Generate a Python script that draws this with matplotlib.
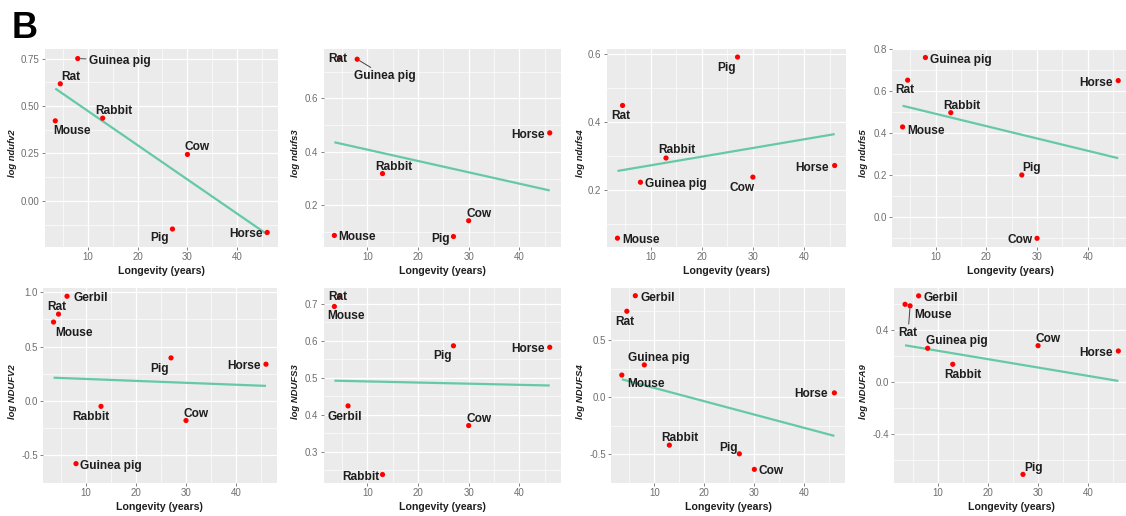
import matplotlib
matplotlib.use("Agg")
import matplotlib.pyplot as plt
import numpy as np

plt.rcParams['font.family'] = ['Liberation Sans', 'DejaVu Sans']

# ---- data -------------------------------------------------------------
species = ["Mouse", "Rat", "Gerbil", "Guinea pig", "Rabbit", "Pig", "Cow", "Horse"]
longevity = [3.5, 4.5, 6.2, 8, 13, 27, 30, 46]

# log expression per species (None = not measured)
ndufv2 = [0.422, 0.617, None, 0.750, 0.436, -0.148, 0.245, -0.166]
ndufs3 = [0.088, 0.750, None, 0.746, 0.319, 0.084, 0.143, 0.471]
ndufs4 = [0.059, 0.448, None, 0.223, 0.294, 0.590, 0.238, 0.272]
ndufs5 = [0.429, 0.652, None, 0.760, 0.497, 0.200, -0.102, 0.650]
NDUFV2 = [0.725, 0.798, 0.962, -0.575, -0.049, 0.396, -0.179, 0.338]
NDUFS3 = [0.692, 0.719, 0.424, None, 0.239, 0.586, 0.371, 0.582]
NDUFS4 = [0.193, 0.752, 0.888, 0.282, -0.421, -0.497, -0.633, 0.037]
NDUFA9 = [0.597, 0.585, 0.662, 0.259, 0.136, -0.710, 0.279, 0.238]

genes = ["ndufv2", "ndufs3", "ndufs4", "ndufs5", "NDUFV2", "NDUFS3", "NDUFS4", "NDUFA9"]
values = [ndufv2, ndufs3, ndufs4, ndufs5, NDUFV2, NDUFS3, NDUFS4, NDUFA9]

# linear fit: fitted log expression at the shortest and longest longevity
fit_start = [0.592, 0.436, 0.256, 0.530, 0.214, 0.492, 0.156, 0.282]
fit_end = [-0.176, 0.256, 0.364, 0.280, 0.139, 0.479, -0.340, 0.008]

x_ticks = [10, 20, 30, 40]
y_ticks = [
    [0.00, 0.25, 0.50, 0.75],
    [0.2, 0.4, 0.6],
    [0.2, 0.4, 0.6],
    [0.0, 0.2, 0.4, 0.6, 0.8],
    [-0.5, 0.0, 0.5, 1.0],
    [0.3, 0.4, 0.5, 0.6, 0.7],
    [-0.5, 0.0, 0.5],
    [-0.4, 0.0, 0.4],
]
y_tick_labels = [
    ["0.00", "0.25", "0.50", "0.75"],
    ["0.2", "0.4", "0.6"],
    ["0.2", "0.4", "0.6"],
    ["0.0", "0.2", "0.4", "0.6", "0.8"],
    ["-0.5", "0.0", "0.5", "1.0"],
    ["0.3", "0.4", "0.5", "0.6", "0.7"],
    ["-0.5", "0.0", "0.5"],
    ["-0.4", "0.0", "0.4"],
]

# ---- layout -----------------------------------------------------------
W, H = 1126, 516
XLIM = (1.375, 48.125)
YLIM = [(-0.241, 0.803), (0.046, 0.786), (0.034, 0.615), (-0.142, 0.803),
        (-0.647, 1.035), (0.217, 0.741), (-0.698, 0.953), (-0.774, 0.720)]
# panel boxes in pixels: left, right, top, bottom
BOX = [(44.7, 277.8, 48.5, 246.7), (323.6, 560.5, 48.5, 246.7),
       (606.6, 845.5, 48.5, 246.7), (891.8, 1129.0, 48.5, 246.7),
       (42.9, 276.6, 288.3, 482.7), (323.6, 560.5, 288.3, 482.7),
       (611.2, 845.0, 288.3, 482.7), (894.4, 1129.0, 288.3, 482.7)]
YLABEL_X = [12.7, 295.7, 580.7, 864, 12.7, 295.7, 580.7, 864]

# label offsets from each point in pixels (dx right, dy down)
OFFSETS = [
    {"Guinea pig": (42, 2), "Rat": (11, -7), "Mouse": (17, 10), "Rabbit": (11, -7),
     "Cow": (10, -7), "Pig": (-13, 9), "Horse": (-21, 2)},
    {"Rat": (-2, 1), "Guinea pig": (28, 17), "Horse": (-22, 2), "Rabbit": (11, -7),
     "Cow": (10, -7), "Mouse": (23, 2), "Pig": (-13, 2)},
    {"Pig": (-11, 11), "Rat": (-2, 11), "Rabbit": (11, -8), "Guinea pig": (35, 2),
     "Cow": (-11, 11), "Horse": (-23, 2), "Mouse": (24, 2)},
    {"Guinea pig": (35, 2), "Rat": (-3, 10), "Horse": (-22, 2), "Rabbit": (11, -7),
     "Mouse": (23, 4), "Pig": (10, -7), "Cow": (-17, 2)},
    {"Gerbil": (24, 2), "Rat": (-2, -7), "Mouse": (20, 11), "Pig": (-11, 11),
     "Horse": (-22, 2), "Rabbit": (-10, 11), "Cow": (10, -7), "Guinea pig": (35, 2)},
    {"Rat": (-2, 1), "Mouse": (12, 10), "Pig": (-11, 10), "Horse": (-22, 2),
     "Gerbil": (-3, 11), "Cow": (10, -7), "Rabbit": (-22, 2)},
    {"Gerbil": (22, 2), "Rat": (-2, 11), "Guinea pig": (15, -7), "Mouse": (24, 9),
     "Horse": (-23, 1), "Rabbit": (11, -7), "Pig": (-11, -6), "Cow": (17, 2)},
    {"Gerbil": (22, 2), "Mouse": (28, 11), "Rat": (-2, 27), "Guinea pig": (29, -7),
     "Rabbit": (10, 11), "Cow": (10, -7), "Horse": (-22, 2), "Pig": (11, -6)},
]
SEGMENTS = {(0, "Guinea pig"), (1, "Guinea pig"), (7, "Rat")}

PANEL_BG = "#EBEBEB"
LINE_COLOR = "#66C9A6"
TICK_COLOR = "#6E6E6E"
LABEL_COLOR = "#1E1E1E"

fig = plt.figure(figsize=(W / 100, H / 100), dpi=100)

for i, gene in enumerate(genes):
    l, r, t, b = BOX[i]
    ax = fig.add_axes([l / W, 1 - b / H, (r - l) / W, (b - t) / H])
    ax.set_facecolor(PANEL_BG)
    for s in ax.spines.values():
        s.set_visible(False)
    ax.set_xlim(*XLIM)
    ax.set_ylim(*YLIM[i])

    # grid: major at ticks, minor halfway between
    yt = y_ticks[i]
    step = yt[1] - yt[0]
    minor_y = np.arange(yt[0] - step / 2, YLIM[i][1], step)
    minor_x = np.arange(5, XLIM[1], 10)
    ax.set_xticks(x_ticks)
    ax.set_xticks(minor_x, minor=True)
    ax.set_yticks(yt)
    ax.set_yticks(minor_y, minor=True)
    ax.set_yticklabels(y_tick_labels[i])
    ax.grid(which="major", color="white", lw=0.9, zorder=0)
    ax.grid(which="minor", color="white", lw=0.45, zorder=0)
    ax.set_axisbelow(True)
    ax.tick_params(which="minor", length=0)
    ax.tick_params(which="major", length=2.2, width=0.6, color=TICK_COLOR,
                   labelcolor=TICK_COLOR, labelsize=7.0, pad=1.5)

    xs = [x for x, v in zip(longevity, values[i]) if v is not None]
    ys = [v for v in values[i] if v is not None]
    names = [s for s, v in zip(species, values[i]) if v is not None]

    ax.plot([min(xs), max(xs)], [fit_start[i], fit_end[i]], color=LINE_COLOR,
            lw=1.6, zorder=2, solid_capstyle="butt")
    ax.scatter(xs, ys, s=14, color="#FF0000", edgecolors="none", zorder=3)

    for name, x, y in zip(names, xs, ys):
        dx, dy = OFFSETS[i][name]
        kw = {}
        if (i, name) in SEGMENTS:
            kw["arrowprops"] = dict(arrowstyle="-", color="#444444", lw=0.7,
                                    shrinkA=0, shrinkB=2)
        ax.annotate(name, (x, y), xytext=(dx, -dy), textcoords="offset pixels",
                    ha="center", va="center", fontsize=8.6, fontweight="bold",
                    color=LABEL_COLOR, zorder=5, **kw)

    ax.set_xlabel("Longevity (years)", fontsize=7.6, fontweight="bold",
                  color=LABEL_COLOR)
    ax.xaxis.set_label_coords(0.5, -24.0 / (b - t))
    ax.xaxis.label.set_verticalalignment("center")

    ax.set_ylabel(f"log {gene}", fontsize=6.8, fontweight="bold", fontstyle="italic",
                  color=LABEL_COLOR)
    ax.yaxis.set_label_coords((YLABEL_X[i] - l) / (r - l), 0.47)
    ax.yaxis.label.set_verticalalignment("center")

fig.text(11.5 / W, 1 - 38.3 / H, "B", fontsize=26, fontweight="bold",
         ha="left", va="baseline", color="black")

fig.savefig("out.png", dpi=100)
